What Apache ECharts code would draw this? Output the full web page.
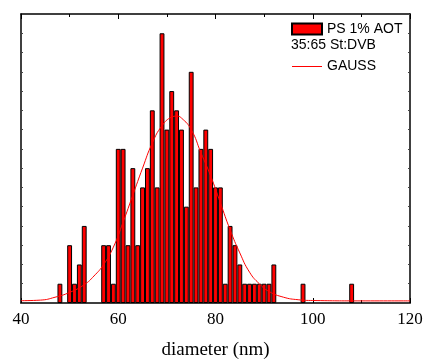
<!DOCTYPE html>
<html>
<head>
<meta charset="utf-8">
<script src="https://cdn.jsdelivr.net/npm/echarts@6/dist/echarts.min.js"></script>
<style>html,body{margin:0;padding:0;background:#fff}#c{width:425px;height:361px}</style>
</head>
<body>
<div id="c"></div>
<script>
// Histogram bins (diameter, nm) and counts
const diameters = [48,50,51,52,53,57,58,59,60,61,62,63,64,65,66,67,68,69,70,71,72,73,74,75,76,77,78,79,80,81,82,83,84,85,86,87,88,89,90,91,92,98,108];
const counts    = [1, 3, 1, 2, 4, 3, 3, 1, 8, 8, 3, 7, 3, 6, 7, 10,6, 14,9, 11,10,9, 5, 12,6, 8, 9, 8, 6, 6, 1, 4, 3, 2, 1, 1, 1, 1, 1, 1, 2, 1, 1];
// Gauss fit curve
const gaussX = [40,44,47,50,53,55,57,59,61,63,65,67,69,71,72,73,75,77,79,81,83,85,87,89,91,94,97,100,110,120];
const gaussY = [0.12,0.15,0.3,0.55,0.95,1.4,2.0,2.9,4.2,5.6,7.0,8.3,9.2,9.65,9.7,9.6,9.0,7.8,6.6,5.2,3.8,2.6,1.6,1.0,0.6,0.3,0.17,0.13,0.11,0.11];
const xTickLabels = ['40','60','80','100','120'];
const seriesNames = ['PS 1% AOT','GAUSS'];
const subtitle = '35:65 St:DVB';

const chart = echarts.init(document.getElementById('c'), null, {renderer:'canvas'});
const serif = '"Liberation Serif","Times New Roman",serif';
const sans = '"Liberation Sans",Arial,sans-serif';
const axisLine = {show:true, onZero:false, lineStyle:{color:'#000', width:1.5}};
const xCommon = {
  type:'value', min:40, max:120, interval:20,
  axisLine: axisLine,
  axisTick:{show:true, inside:true, length:5, lineStyle:{color:'#000', width:1}},
  minorTick:{show:true, splitNumber:2, length:3, lineStyle:{color:'#000', width:1}},
  splitLine:{show:false}
};
const yCommon = {
  type:'value', min:0, max:15, interval:1,
  axisLine: axisLine,
  axisTick:{show:true, inside:true, length:2, lineStyle:{color:'#444', width:1}},
  axisLabel:{show:false},
  splitLine:{show:false}
};
chart.setOption({
  animation:false,
  grid:{left:21, right:15, top:14, bottom:58, containLabel:false, outerBoundsMode:'none'},
  xAxis:[
    Object.assign({}, xCommon, {
      position:'bottom',
      name:'diameter (nm)', nameLocation:'middle', nameGap:38,
      nameTextStyle:{fontFamily:serif, fontSize:19, color:'#000'},
      axisLabel:{show:true, fontFamily:serif, fontSize:17, color:'#000', margin:8,
        formatter: v => xTickLabels.includes(String(v)) ? String(v) : ''}
    }),
    Object.assign({}, xCommon, {position:'top', axisLabel:{show:false}})
  ],
  yAxis:[
    Object.assign({}, yCommon, {position:'left'}),
    Object.assign({}, yCommon, {position:'right'})
  ],
  legend:{
    orient:'vertical', left:291, top:22, padding:0, itemWidth:30, itemHeight:11, itemGap:23.5,
    textStyle:{fontFamily:sans, fontSize:14, color:'#000'},
    data:[
      {name:seriesNames[0], icon:'rect'},
      {name:seriesNames[1], icon:'path://M0,0 L30,0 L30,1 L0,1 Z', itemStyle:{color:'#ff0000', borderWidth:0}}
    ]
  },
  graphic:[{
    type:'text', left:291, top:38,
    style:{text:subtitle, fontFamily:sans, fontSize:14, fill:'#000'}
  }],
  series:[
    {
      name:seriesNames[0], type:'bar', xAxisIndex:0, yAxisIndex:0,
      data: diameters.map((d,i)=>[d, counts[i]]),
      barWidth:4.86, barGap:'0%',
      itemStyle:{color:'#ff0000', borderColor:'#000', borderWidth:1}
    },
    {
      name:seriesNames[1], type:'line', xAxisIndex:0, yAxisIndex:0,
      data: gaussX.map((x,i)=>[x, gaussY[i]]),
      smooth:true, symbol:'none',
      lineStyle:{color:'#ff0000', width:1},
      itemStyle:{color:'#ff0000'},
      z:3
    }
  ]
});
</script>
</body>
</html>
